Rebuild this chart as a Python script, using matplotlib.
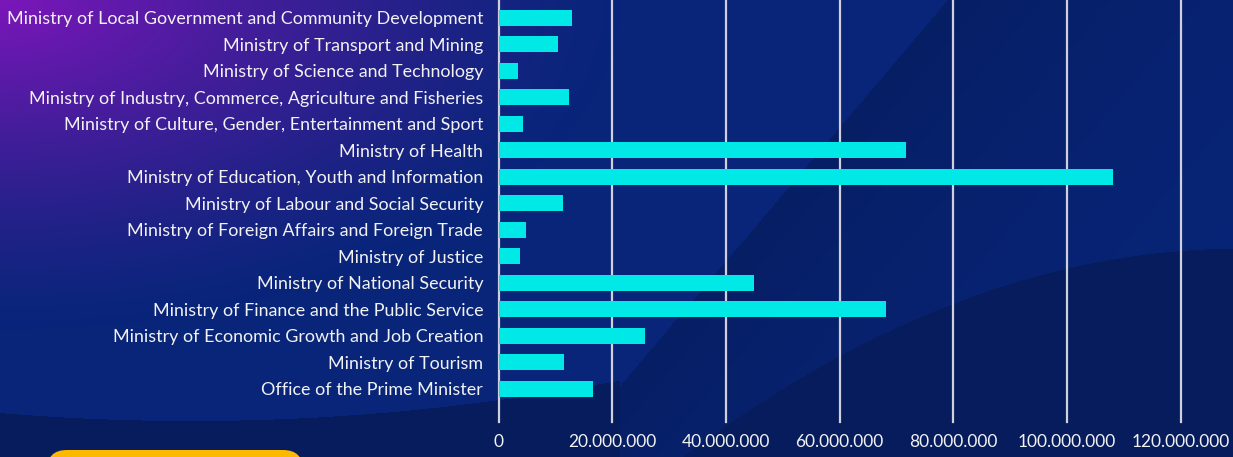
import numpy as np
import matplotlib.pyplot as plt
from matplotlib.patches import FancyBboxPatch
from matplotlib.ticker import FuncFormatter

plt.rcParams['font.family'] = ['Lato', 'DejaVu Sans']

# budget per ministry, top to bottom as in the picture
ministries = [
    'Ministry of Local Government and Community Development',
    'Ministry of Transport and Mining',
    'Ministry of Science and Technology',
    'Ministry of Industry, Commerce, Agriculture and Fisheries',
    'Ministry of Culture, Gender, Entertainment and Sport',
    'Ministry of Health',
    'Ministry of Education, Youth and Information',
    'Ministry of Labour and Social Security',
    'Ministry of Foreign Affairs and Foreign Trade',
    'Ministry of Justice',
    'Ministry of National Security',
    'Ministry of Finance and the Public Service',
    'Ministry of Economic Growth and Job Creation',
    'Ministry of Tourism',
    'Office of the Prime Minister',
]
budget = [12.9e6, 10.5e6, 3.4e6, 12.4e6, 4.3e6, 71.7e6, 108.1e6, 11.3e6,
          4.8e6, 3.8e6, 44.9e6, 68.2e6, 25.8e6, 11.5e6, 16.6e6]
xticks = [0, 20e6, 40e6, 60e6, 80e6, 100e6, 120e6]

W, H = 1233, 457
fig = plt.figure(figsize=(W / 100, H / 100), dpi=100)

# --- background: blue with purple corner and darker swooshes
xx, yy = np.meshgrid(np.arange(W) + 0.5, np.arange(H) + 0.5)
light = np.array([8, 37, 122]) / 255
dark = np.array([6, 28, 92]) / 255
purple = np.array([124, 22, 186]) / 255
img = np.ones((H, W, 3)) * light

# diagonal band from top middle down to bottom left
d = ((xx - 948) * 457 + yy * 388) / np.hypot(457, 388)
band = np.where(d > 0, 0.75 * np.exp(-d / 240), 0)
img = img * (1 - band[..., None]) + dark * band[..., None]

# lower right dark wave
p = np.polyfit([683, 900, 1067, 1233], [457, 327, 268, 249], 2)
img[yy > np.polyval(p, xx)] = dark
# lower left dark wave
q = np.polyfit([0, 180, 500], [413, 421, 400], 2)
img[(yy > np.polyval(q, xx)) & (xx < 620)] = dark

# purple glow top left
t = np.sqrt((xx / 620) ** 2 + (yy / 330) ** 2)
w = np.clip(1 - t, 0, 1) ** 1.3
img = img * (1 - w[..., None]) + purple * w[..., None]

bg = fig.add_axes([0, 0, 1, 1])
bg.imshow(img, extent=(0, W, H, 0), aspect='auto')
bg.add_patch(FancyBboxPatch((47, 450), 256, 40,
                            boxstyle='round,pad=0,rounding_size=20',
                            color='#fcb900', lw=0))
bg.set_xlim(0, W)
bg.set_ylim(H, 0)
bg.axis('off')

# --- chart
ax = fig.add_axes([498.5 / W, 1 - 421.7 / H, (1180.8 - 498.5) / W, 421.7 / H])
ax.patch.set_alpha(0)
y = np.arange(len(ministries))
ax.barh(y, budget, height=0.6, color='#00e9e6', zorder=3)
ax.set_yticks(y)
ax.set_yticklabels(ministries)
ax.set_ylim(15.24, -0.676)
ax.set_xlim(0, 120e6)
ax.set_xticks(xticks)
ax.xaxis.set_major_formatter(FuncFormatter(lambda v, pos: f'{v:,.0f}'.replace(',', '.')))
ax.grid(axis='x', color='#cfd0dc', lw=1.6, zorder=0)
for gl in ax.get_xgridlines():
    gl.set_clip_on(False)
for s in ax.spines.values():
    s.set_visible(False)
ax.tick_params(axis='y', length=0, colors='#f2f2f2', labelsize=12.9, pad=11)
ax.tick_params(axis='x', length=0, colors='#f2f2f2', labelsize=12.5, pad=9)

fig.savefig('out.png', dpi=100)
